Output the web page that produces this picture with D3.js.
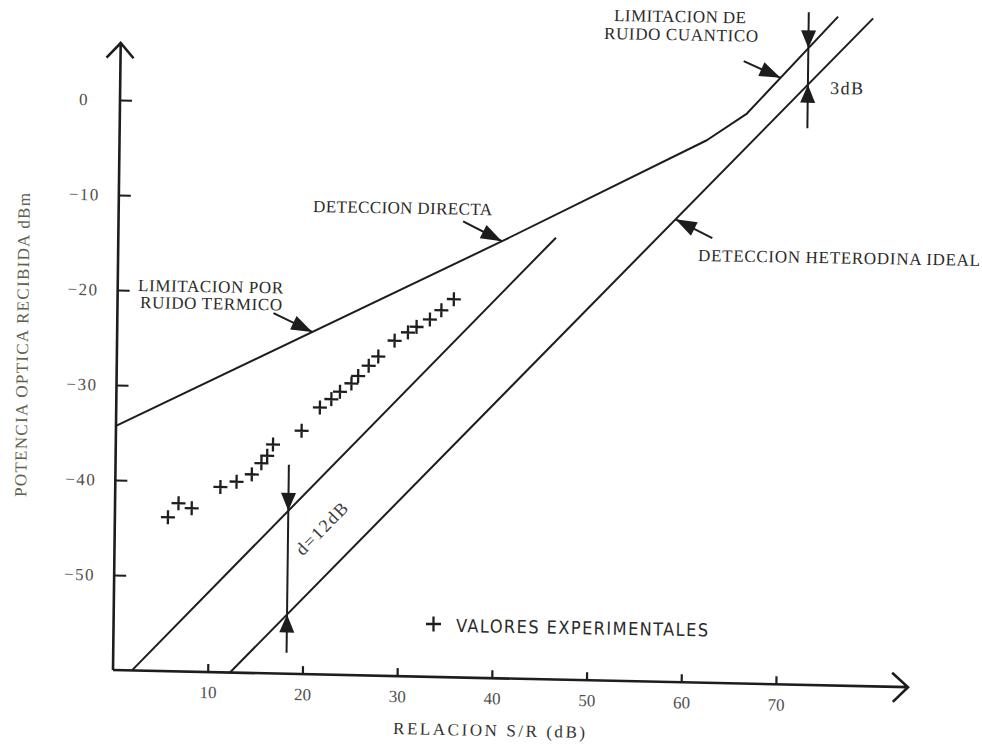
<!DOCTYPE html>
<html>
<head>
<meta charset="utf-8">
<script src="https://cdn.jsdelivr.net/npm/d3@7"></script>
<style>
  html, body { margin: 0; padding: 0; background: #fff; }
  svg { display: block; }
  text { font-family: "Liberation Serif", "Times New Roman", serif; }
</style>
</head>
<body>
<script>
// Axis tick values
const xTicks = [10, 20, 30, 40, 50, 60, 70];          // RELACION S/R (dB)
const yTicks = [0, -10, -20, -30, -40, -50];          // potencia (dBm)

// Direct detection: thermal-noise limit bending into the quantum-noise limit
const directCurve = [[0, -34.3], [40.3, -14.1], [62.0, -2.9], [66.2, 0.0], [75.7, 10.4]];
// Ideal heterodyne detection
const heterodyneLine = [[12.35, -60], [79.4, 10.3]];
// Parallel line shifted by d = 12 dB
const offsetLine = [[2.0, -60], [46.2, -13.5]];

// Experimental values: S/R (dB) and received power (dBm)
const expSR = [5.6, 6.7, 8.1, 11.1, 12.8, 14.4, 15.4, 16.0, 16.6, 19.6, 21.5, 22.7,
               23.6, 24.8, 25.5, 26.6, 27.6, 29.3, 30.7, 31.6, 33.0, 34.2, 35.5];
const expP  = [-43.8, -42.3, -42.8, -40.5, -39.9, -39.1, -37.9, -37.1, -35.9, -34.4, -31.9, -31.0,
               -30.2, -29.3, -28.5, -27.4, -26.4, -24.7, -23.8, -23.2, -22.4, -21.4, -20.2];

// Gap markers: S/R position and vertical extent (dBm) of each double arrow
const gapX    = [72.6, 18.3];
const gapTop  = [10.8, -38.0];
const gapBot  = [-1.4, -57.8];

const W = 982, H = 746;
const ink = "#1d1d1d";

const svg = d3.select("body").append("svg")
  .attr("width", W).attr("height", H)
  .attr("viewBox", `0 0 ${W} ${H}`);

// Plot frame: origin at the axes corner, slightly tilted like a scanned page
const plot = svg.append("g")
  .attr("transform", "matrix(1,0.0216,-0.0123,1,113,670)");

const x = d3.scaleLinear().domain([0, 80]).range([0, 757.6]);
const y = d3.scaleLinear().domain([-60, 0]).range([0, -570]);

// ---- axes with open arrow heads ----
plot.append("path")
  .attr("d", "M0,0V-627M-14,-612L0,-627L13,-612")
  .attr("fill", "none").attr("stroke", ink).attr("stroke-width", 2.6);
plot.append("path")
  .attr("d", "M0,0H795M779,-14L795,0L780,15")
  .attr("fill", "none").attr("stroke", ink).attr("stroke-width", 2.6);

const xAxis = plot.append("g")
  .call(d3.axisBottom(x).tickValues(xTicks).tickSizeInner(-8).tickSizeOuter(0)
        .tickPadding(14).tickFormat(d3.format("d")));
const yAxis = plot.append("g")
  .call(d3.axisLeft(y).tickValues(yTicks).tickSizeInner(-12).tickSizeOuter(0)
        .tickPadding(19).tickFormat(d => d === 0 ? "0" : "\u2212" + Math.abs(d)));

[xAxis, yAxis].forEach(a => {
  a.select(".domain").remove();
  a.attr("font-family", null).attr("font-size", null);
  a.selectAll(".tick line").attr("stroke", ink).attr("stroke-width", 2.2);
  a.selectAll(".tick text")
    .attr("fill", "#4f4f4f")
    .style("font-family", "'Liberation Serif', serif")
    .style("font-size", "17px");
});
yAxis.selectAll(".tick text").style("letter-spacing", "1.5px")
  .attr("dx", d => d === 0 ? -12 : 0);

// ---- curves ----
const line = d3.line().x(d => x(d[0])).y(d => y(d[1]));
[directCurve, heterodyneLine, offsetLine].forEach(c => {
  plot.append("path").attr("d", line(c))
    .attr("fill", "none").attr("stroke", ink).attr("stroke-width", 2)
    .attr("stroke-linejoin", "round");
});

// ---- experimental points ----
plot.append("g").selectAll("path")
  .data(d3.zip(expSR, expP))
  .join("path")
  .attr("transform", d => `translate(${x(d[0])},${y(d[1])})`)
  .attr("d", "M-7,0H7M0,-7V7")
  .attr("stroke", ink).attr("stroke-width", 2.3).attr("fill", "none");

// value of a polyline at a given S/R
function at(curve, xv) {
  for (let i = 0; i < curve.length - 1; i++) {
    const [x0, y0] = curve[i], [x1, y1] = curve[i + 1];
    if (xv >= x0 && xv <= x1) return y0 + (y1 - y0) * (xv - x0) / (x1 - x0);
  }
  return curve[curve.length - 1][1];
}

// filled triangular head with its tip at (tx,ty), pointing along (ux,uy)
function head(tx, ty, ux, uy, len, half) {
  const n = Math.hypot(ux, uy); ux /= n; uy /= n;
  const bx = tx - ux * len, by = ty - uy * len;
  plot.append("path")
    .attr("d", `M${tx},${ty}L${bx - uy * half},${by + ux * half}L${bx + uy * half},${by - ux * half}Z`)
    .attr("fill", ink);
}

// pointer arrows: tip on a curve, tail offset in pixels
function pointer(curve, xv, ox, oy) {
  const tx = x(xv), ty = y(at(curve, xv));
  plot.append("line")
    .attr("x1", tx + ox).attr("y1", ty + oy).attr("x2", tx).attr("y2", ty)
    .attr("stroke", ink).attr("stroke-width", 2);
  head(tx, ty, -ox, -oy, 21, 7.5);
}
pointer(directCurve, 20.6, -39, -18);     // LIMITACION POR RUIDO TERMICO
pointer(directCurve, 40.5, -39, -19);     // DETECCION DIRECTA
pointer(directCurve, 69.7, -37, -16);     // LIMITACION DE RUIDO CUANTICO
pointer(heterodyneLine, 58.8, 37, 18);    // DETECCION HETERODINA IDEAL

// double arrows measuring the gap between two curves
const gapUpper = [directCurve, offsetLine];
gapX.forEach((gx, i) => {
  const px = x(gx);
  plot.append("line")
    .attr("x1", px).attr("x2", px).attr("y1", y(gapTop[i])).attr("y2", y(gapBot[i]))
    .attr("stroke", ink).attr("stroke-width", 2);
  head(px, y(at(gapUpper[i], gx)), 0, 1, 18, 7.5);
  head(px, y(at(heterodyneLine, gx)), 0, -1, 18, 7.5);
});

// ---- labels ----
function label(txt, x0, yb, len, opts = {}) {
  const t = svg.append("text")
    .attr("x", x0).attr("y", yb)
    .attr("fill", opts.fill || "#2b2b2b")
    .style("font-size", (opts.size || 17) + "px")
    .attr("transform", `rotate(${opts.rot === undefined ? 1 : opts.rot},${x0},${yb})`)
    .text(txt);
  if (len) t.attr("textLength", len).attr("lengthAdjust", "spacing");
  if (opts.family) t.style("font-family", opts.family);
  if (opts.anchor) t.attr("text-anchor", opts.anchor);
  return t;
}

label("LIMITACION POR", 138, 291, 145);
label("RUIDO TERMICO", 140, 308, 142);
label("DETECCION DIRECTA", 313, 212, 179);
label("LIMITACION DE", 614, 21, 132);
label("RUIDO CUANTICO", 604, 39, 154);
label("DETECCION HETERODINA IDEAL", 698, 261, 282);
label("3dB", 830, 94, 33, { size: 18 });

// d = 12 dB, written along the parallel lines
label("d=12dB", 326, 533, 66, { rot: -45.5, anchor: "middle", size: 18, fill: "#3a3a3a" });

// axis titles
label("POTENCIA OPTICA RECIBIDA dBm", 28, 345, 304,
      { rot: -89.3, anchor: "middle", fill: "#5e604c" });
label("RELACION S/R  (dB)", 489, 736, 192, { anchor: "middle", rot: 1.2, fill: "#333" });

// legend
svg.append("path")
  .attr("d", "M426,624H441M433.5,616.5V631.5")
  .attr("stroke", ink).attr("stroke-width", 2.3);
label("VALORES EXPERIMENTALES", 456, 632, 252,
      { size: 18, family: "'Liberation Sans Narrow', 'DejaVu Sans Condensed', sans-serif", fill: "#2b2b2b" });
</script>
</body>
</html>
